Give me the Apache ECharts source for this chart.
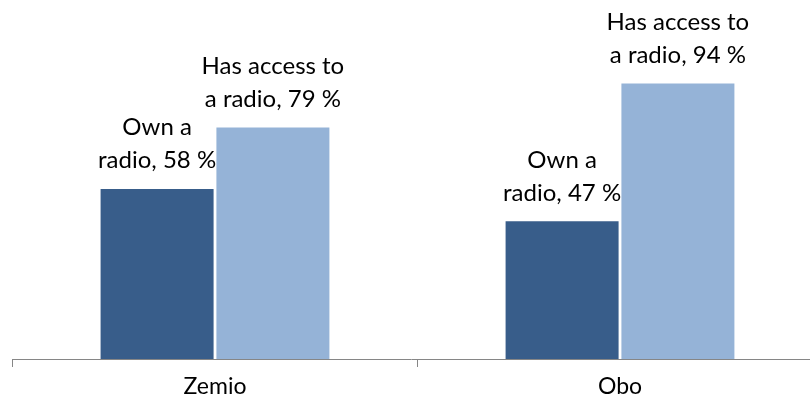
<!DOCTYPE html>
<html><head><meta charset="utf-8">
<script src="https://cdn.jsdelivr.net/npm/echarts@6/dist/echarts.min.js"></script>
<style>html,body{margin:0;padding:0;background:#fff}#c{width:810px;height:404px}</style>
</head><body><div id="c"></div>
<script>
const categories = ["Zemio", "Obo"];
const ownRadio = [58, 47];
const accessRadio = [79, 94];
const labelOwn = "Own a\nradio, {c} %";
const labelAccess = "Has access to\na radio, {c} %";

const font = "Lato";
const chart = echarts.init(document.getElementById('c'));
const lbl = (fmt) => ({show: true, position: 'top', distance: 12, formatter: fmt, color: '#000', fontFamily: font, fontSize: 24, lineHeight: 33, align: 'center'});
chart.setOption({
  animation: false,
  grid: {left: 12.5, width: 810, top: 66, bottom: 45, containLabel: false, outerBoundsMode: 'none'},
  xAxis: {type: 'category', data: categories,
    axisLine: {lineStyle: {color: '#868686', width: 1}},
    axisTick: {show: true, length: 8, lineStyle: {color: '#868686'}},
    axisLabel: {color: '#000', fontFamily: font, fontSize: 23, margin: 16}},
  yAxis: {type: 'value', min: 0, max: 100, show: false, splitLine: {show: false}},
  series: [
    {name: 'Own a radio', type: 'bar', data: ownRadio, barWidth: 113, barGap: '2.5%',
     itemStyle: {color: '#385D8A'}, label: lbl(labelOwn)},
    {name: 'Has access to a radio', type: 'bar', data: accessRadio, barWidth: 113,
     itemStyle: {color: '#95B3D7'}, label: lbl(labelAccess)}
  ]
});
</script></body></html>
